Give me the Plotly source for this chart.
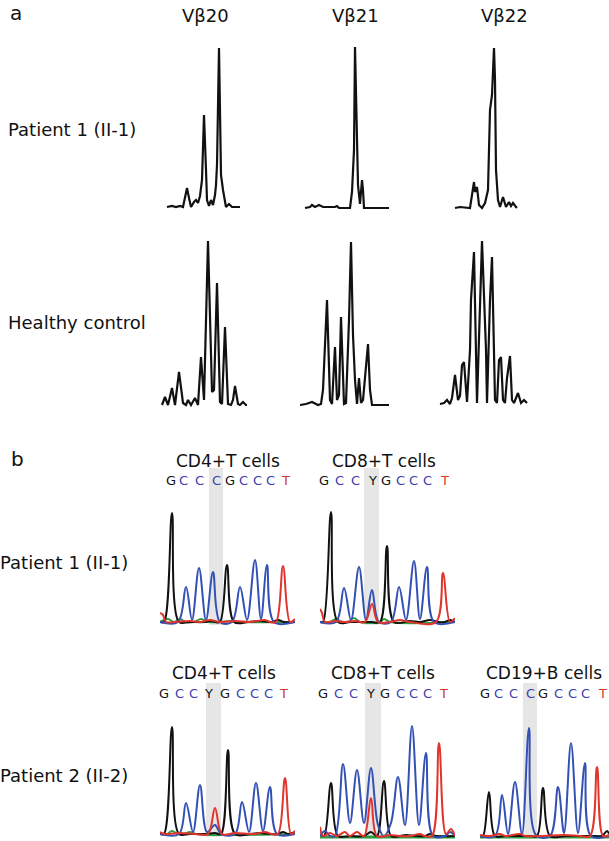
import plotly.graph_objects as go

W, H = 609, 841

# ---------------- Panel a: spectratype profiles (size position, intensity) ----------------
v20_p1_pos = [5, 10, 14, 18, 21, 23, 25, 27, 29, 32, 34, 36, 38, 40, 42, 44, 45, 47, 49, 51, 53, 54, 55, 57, 58, 59, 61, 63, 64, 67, 70, 78]
v20_p1_int = [0, 1, 0, 1, 0, 9, 19, 9, 0, 5, 7, 4, 11, 27, 92, 37, 7, 1, 7, 2, 12, 22, 42, 159, 87, 32, 17, 7, 0, 3, 0, 0]

v21_p1_pos = [5, 10, 12, 15, 19, 23, 35, 37, 39, 50, 52, 54, 55, 57, 58, 60, 62, 63, 64, 89]
v21_p1_int = [0, 1, 3, 1, 3, 1, 1, 2, 0, 0, 16, 58, 161, 68, 23, 4, 28, 18, 0, 0]

v22_p1_pos = [5, 10, 20, 22, 24, 25, 27, 29, 32, 35, 38, 40, 42, 44, 45, 46, 48, 50, 53, 56, 59, 61, 63, 66, 67]
v22_p1_int = [0, 1, 0, 13, 26, 16, 21, 3, 0, 5, 18, 98, 113, 160, 128, 38, 8, 1, 11, 1, 6, 2, 5, 1, 0]

v20_hc_pos = [2, 5, 8, 12, 15, 19, 23, 26, 28, 31, 35, 38, 41, 44, 48, 52, 54, 57, 60, 62, 65, 68, 71, 73, 75, 78, 80, 83, 86, 87]
v20_hc_int = [0, 8, 0, 17, 0, 33, 2, 0, 5, 0, 7, 0, 48, 5, 164, 13, 15, 122, 3, 1, 78, 1, 0, 5, 19, 1, 0, 3, 0, 0]

v21_hc_pos = [0, 6, 12, 18, 21, 23, 27, 30, 32, 35, 37, 39, 41, 44, 46, 49, 51, 53, 55, 57, 59, 61, 63, 65, 66, 68, 70, 72, 89]
v21_hc_int = [0, 1, 3, 0, 1, 15, 105, 5, 1, 58, 5, 10, 88, 1, 2, 85, 163, 70, 25, 1, 27, 2, 5, 30, 35, 61, 15, 0, 0]

v22_hc_pos = [2, 6, 9, 12, 14, 17, 20, 22, 24, 26, 29, 32, 33, 36, 39, 41, 44, 48, 49, 52, 54, 57, 59, 61, 63, 65, 67, 69, 72, 74, 76, 80, 83, 86, 89]
v22_hc_int = [0, 1, 4, 0, 6, 29, 4, 8, 39, 42, 2, 54, 104, 152, 1, 74, 163, 54, 1, 104, 147, 4, 1, 44, 47, 4, 1, 26, 48, 4, 1, 11, 1, 4, 1]

vb_labels = ["V\u03b220", "V\u03b221", "V\u03b222"]
row_labels_a = ["Patient 1 (II-1)", "Healthy control"]

# ---------------- Panel b: Sanger chromatograms (scan position, signal) ----------------
p1_cd4_black = [(0, 1), (4, 1), (12, 110), (19, 1), (30, 1), (45, 1), (50, 2), (55, 1), (60, 1), (67, 58), (74, 1), (88, 1), (100, 2), (112, 1), (118, 3), (124, 1), (135, 1)]
p1_cd4_blue = [(0, 1), (18, 1), (26, 36), (32, 3), (39, 55), (46, 3), (53, 51), (60, 1), (72, 1), (80, 36), (87, 3), (95, 63), (101, 4), (107, 58), (114, 1), (135, 1)]
p1_cd4_red = [(0, 10), (3, 8), (6, 1), (15, 1), (30, 2), (40, 1), (50, 3), (60, 1), (75, 2), (90, 1), (105, 3), (110, 1), (116, 1), (123, 57), (130, 1), (135, 4)]
p1_cd4_green = [(0, 1), (8, 4), (14, 1), (20, 4), (26, 1), (34, 1), (41, 4), (48, 1), (62, 1), (70, 2), (80, 1), (135, 1)]

p1_cd8_black = [(0, 1), (3, 1), (11, 111), (18, 1), (30, 1), (45, 1), (52, 1), (60, 1), (67, 77), (74, 1), (90, 2), (100, 1), (110, 3), (118, 1), (125, 1), (130, 3), (135, 1)]
p1_cd8_blue = [(0, 1), (16, 1), (24, 35), (31, 3), (39, 56), (46, 3), (52, 33), (59, 1), (71, 1), (79, 36), (86, 3), (94, 62), (100, 4), (107, 56), (114, 1), (135, 1)]
p1_cd8_red = [(0, 14), (2, 10), (5, 1), (15, 2), (25, 1), (35, 2), (45, 1), (52, 19), (58, 1), (70, 1), (80, 3), (90, 1), (116, 1), (123, 50), (130, 1), (135, 5)]
p1_cd8_green = [(0, 1), (10, 1), (16, 4), (22, 1), (28, 1), (34, 5), (40, 1), (60, 1), (64, 4), (70, 1), (135, 1)]

p2_cd4_black = [(0, 1), (4, 1), (12, 108), (19, 1), (30, 1), (45, 1), (55, 2), (61, 1), (68, 85), (75, 1), (90, 1), (100, 2), (110, 1), (118, 1), (123, 3), (128, 1), (135, 3)]
p2_cd4_blue = [(0, 1), (19, 1), (26, 32), (33, 3), (40, 50), (47, 3), (55, 10), (61, 1), (75, 1), (82, 33), (89, 3), (96, 52), (103, 4), (110, 48), (117, 1), (135, 1)]
p2_cd4_red = [(0, 3), (5, 1), (20, 2), (35, 1), (48, 1), (55, 27), (62, 1), (75, 2), (95, 1), (105, 3), (112, 1), (118, 1), (125, 57), (131, 1), (135, 4)]
p2_cd4_green = [(0, 1), (7, 1), (12, 4), (18, 1), (24, 1), (30, 3), (36, 1), (135, 1)]

p2_cd8_black = [(0, 3), (4, 1), (11, 54), (18, 1), (30, 1), (44, 1), (51, 5), (57, 1), (64, 56), (71, 1), (80, 1), (86, 2), (95, 1), (105, 1), (110, 3), (116, 1), (135, 1)]
p2_cd8_blue = [(0, 1), (5, 6), (10, 1), (15, 1), (23, 73), (30, 14), (37, 67), (44, 14), (51, 69), (58, 12), (64, 1), (71, 14), (78, 60), (85, 12), (92, 111), (99, 12), (106, 84), (113, 1), (125, 1), (130, 5), (135, 1)]
p2_cd8_red = [(0, 10), (3, 1), (10, 4), (17, 1), (25, 5), (30, 1), (37, 5), (44, 1), (51, 39), (57, 1), (70, 2), (80, 1), (90, 1), (100, 3), (105, 1), (112, 1), (119, 94), (126, 3), (131, 8), (135, 1)]
p2_cd8_green = [(0, 0), (135, 0)]

p2_cd19_black = [(0, 1), (3, 1), (9, 45), (15, 1), (25, 1), (40, 1), (50, 1), (57, 1), (63, 49), (70, 1), (85, 1), (100, 1), (115, 1), (122, 1), (127, 6), (129, 3)]
p2_cd19_blue = [(0, 1), (15, 1), (22, 42), (28, 3), (35, 55), (42, 3), (49, 109), (56, 2), (70, 1), (78, 50), (84, 4), (91, 94), (98, 4), (105, 74), (111, 1), (129, 1)]
p2_cd19_red = [(0, 2), (10, 1), (20, 3), (25, 1), (40, 3), (45, 1), (60, 1), (85, 2), (100, 1), (110, 1), (117, 70), (123, 1), (129, 2)]
p2_cd19_green = [(0, 0), (129, 0)]

cell_titles = ["CD4+T cells", "CD8+T cells", "CD4+T cells", "CD8+T cells", "CD19+B cells"]
sequences = ["GCCCGCCCT", "GCCYGCCCT", "GCCYGCCCT", "GCCYGCCCT", "GCCCGCCCT"]
base_pos = [
    [11, 23, 39, 56, 70, 83, 97, 110, 125],
    [4, 19, 35, 52, 66, 80, 93, 107, 124],
    [4, 19, 33, 48, 65, 80, 94, 108, 123],
    [3, 18, 33, 50, 65, 80, 93, 107, 123],
    [5, 18, 33, 50, 63, 78, 92, 105, 122],
]
variant_window = [(49, 63), (44, 59), (46, 61), (45, 61), (43, 57)]
row_labels_b = ["Patient 1 (II-1)", "Patient 2 (II-2)"]

# ---------------- layout helpers ----------------
FONT = "DejaVu Sans"
TRACE_COL = {"black": "#111111", "blue": "#3350b5", "red": "#e0342c", "green": "#2f9a3f"}
LETTER_COL = {"G": "#111111", "Y": "#111111", "C": "#3c3cb0", "T": "#d23a2c"}

fig = go.Figure()
layout_axes = {}
annotations = []
shapes = []


def px_x(p):
    return p / W


def px_y(p):
    return 1 - p / H


def add_axes(i, left, width, base, xr, yr):
    # y range maps 1:1 to pixels, value 0 sits at pixel row 'base'
    xd = [px_x(left), px_x(left + width)]
    y_bottom = base - yr[0]
    y_top = base - yr[1]
    yd = [px_y(y_bottom), px_y(y_top)]
    ax = dict(domain=xd, range=xr, visible=False, fixedrange=True, anchor=f"y{i}")
    ay = dict(domain=yd, range=yr, visible=False, fixedrange=True, anchor=f"x{i}")
    layout_axes["xaxis" if i == 1 else f"xaxis{i}"] = ax
    layout_axes["yaxis" if i == 1 else f"yaxis{i}"] = ay


def ref(i):
    return ("x" if i == 1 else f"x{i}"), ("y" if i == 1 else f"y{i}")


spectra = [
    (v20_p1_pos, v20_p1_int, 162, 207),
    (v21_p1_pos, v21_p1_int, 300, 208),
    (v22_p1_pos, v22_p1_int, 450, 208),
    (v20_hc_pos, v20_hc_int, 160, 405),
    (v21_hc_pos, v21_hc_int, 300, 405),
    (v22_hc_pos, v22_hc_int, 438, 404),
]
idx = 0
for pos, inten, left, base in spectra:
    idx += 1
    add_axes(idx, left, 90, base, [0, 90], [-3, 167])
    xr, yr = ref(idx)
    fig.add_trace(go.Scatter(x=pos, y=inten, mode="lines", xaxis=xr, yaxis=yr,
                             line=dict(color="#111111", width=2.2), hoverinfo="skip", showlegend=False))

chromas = [
    ({"green": p1_cd4_green, "black": p1_cd4_black, "blue": p1_cd4_blue, "red": p1_cd4_red}, 160, 135, 623, 461, 480, 468),
    ({"green": p1_cd8_green, "black": p1_cd8_black, "blue": p1_cd8_blue, "red": p1_cd8_red}, 320, 135, 623, 461, 480, 468),
    ({"green": p2_cd4_green, "black": p2_cd4_black, "blue": p2_cd4_blue, "red": p2_cd4_red}, 160, 135, 835, 673, 693, 683),
    ({"green": p2_cd8_green, "black": p2_cd8_black, "blue": p2_cd8_blue, "red": p2_cd8_red}, 320, 135, 837, 673, 693, 683),
    ({"green": p2_cd19_green, "black": p2_cd19_black, "blue": p2_cd19_blue, "red": p2_cd19_red}, 480, 129, 837, 673, 693, 683),
]
for k, (traces, left, width, base, ty, ly, btop) in enumerate(chromas):
    idx += 1
    add_axes(idx, left, width, base, [0, width], [-3, 160])
    xr, yr = ref(idx)
    x0, x1 = variant_window[k]
    shapes.append(dict(type="rect", xref=xr, yref=yr, x0=x0, x1=x1, y0=-2, y1=base - btop,
                       fillcolor="#e6e6e6", line=dict(width=0), layer="below"))
    for col, pts in traces.items():
        wdt = 3 if (col == "green" and len(pts) == 2) else 2
        fig.add_trace(go.Scatter(x=[p[0] for p in pts], y=[p[1] for p in pts], mode="lines",
                                 xaxis=xr, yaxis=yr, hoverinfo="skip", showlegend=False,
                                 line=dict(color=TRACE_COL[col], width=wdt, shape="spline", smoothing=1.0)))
    title_x = (base_pos[k][0] + base_pos[k][-1]) / 2
    annotations.append(dict(text=cell_titles[k], xref=xr, yref="paper", x=title_x, y=px_y(ty),
                            showarrow=False, xanchor="center", yanchor="middle",
                            font=dict(family=FONT, size=17, color="#111111")))
    for ch, bx in zip(sequences[k], base_pos[k]):
        annotations.append(dict(text=ch, xref=xr, yref="paper", x=bx, y=px_y(ly), showarrow=False,
                                xanchor="center", yanchor="middle",
                                font=dict(family=FONT, size=13, color=LETTER_COL[ch])))

for txt, x, y in [("a", 8, 13), ("b", 9, 459)]:
    annotations.append(dict(text=txt, xref="paper", yref="paper", x=px_x(x), y=px_y(y), showarrow=False,
                            xanchor="left", yanchor="middle", font=dict(family=FONT, size=20, color="#111111")))
for txt, x in zip(vb_labels, [206, 355, 504]):
    annotations.append(dict(text=txt, xref="paper", yref="paper", x=px_x(x), y=px_y(16), showarrow=False,
                            xanchor="center", yanchor="middle", font=dict(family=FONT, size=18, color="#111111")))
for txt, y in zip(row_labels_a, [129, 322]):
    annotations.append(dict(text=txt, xref="paper", yref="paper", x=px_x(6), y=px_y(y), showarrow=False,
                            xanchor="left", yanchor="middle", font=dict(family=FONT, size=18, color="#111111")))
for txt, y in zip(row_labels_b, [562, 775]):
    annotations.append(dict(text=txt, xref="paper", yref="paper", x=px_x(-2), y=px_y(y), showarrow=False,
                            xanchor="left", yanchor="middle", font=dict(family=FONT, size=18, color="#111111")))

fig.update_layout(
    width=W, height=H,
    margin=dict(l=0, r=0, t=0, b=0),
    paper_bgcolor="white", plot_bgcolor="rgba(0,0,0,0)",
    showlegend=False,
    annotations=annotations,
    shapes=shapes,
    **layout_axes,
)
fig.write_html("out.html", config={"displayModeBar": False, "staticPlot": True},
               post_script="document.body.style.margin='0';document.body.style.overflow='hidden';")
